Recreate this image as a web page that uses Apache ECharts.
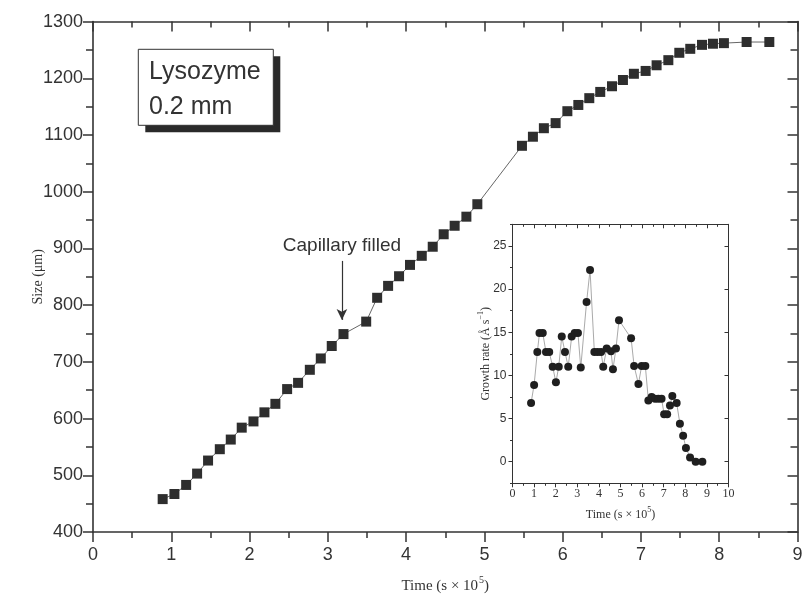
<!DOCTYPE html>
<html>
<head>
<meta charset="utf-8">
<script src="https://cdn.jsdelivr.net/npm/echarts@6/dist/echarts.min.js"></script>
<style>html,body{margin:0;padding:0;background:#fff;}#c{width:808px;height:595px;}</style>
</head>
<body>
<div id="c"></div>
<script>
// Main chart data: crystal size vs time (s x 10^5)
const mainTime = [0.89,1.04,1.19,1.33,1.47,1.62,1.76,1.90,2.05,2.19,2.33,2.48,2.62,2.77,2.91,3.05,3.20,3.49,3.63,3.77,3.91,4.05,4.20,4.34,4.48,4.62,4.77,4.91,5.48,5.62,5.76,5.91,6.06,6.20,6.34,6.48,6.63,6.77,6.91,7.06,7.20,7.35,7.49,7.63,7.78,7.92,8.06,8.35,8.64];
const mainSize = [458,467,483,503,526,546,563,584,595,611,626,652,663,686,706,728,749,771,813,834,851,871,887,903,925,940,956,978,1081,1097,1112,1121,1142,1153,1165,1176,1186,1197,1208,1213,1223,1232,1245,1252,1259,1261,1262,1264,1264];
// Inset data: growth rate vs time
const insetTime = [0.86,1.00,1.15,1.25,1.40,1.55,1.70,1.86,2.01,2.14,2.28,2.43,2.58,2.74,2.88,3.03,3.16,3.43,3.59,3.79,3.94,4.10,4.20,4.36,4.56,4.65,4.79,4.93,5.49,5.63,5.83,5.98,6.15,6.29,6.44,6.60,6.75,6.90,7.02,7.16,7.29,7.40,7.60,7.75,7.90,8.03,8.22,8.48,8.79];
const insetRate = [6.8,8.9,12.7,14.9,14.9,12.7,12.7,11.0,9.2,11.0,14.5,12.7,11.0,14.5,14.9,14.9,10.9,18.5,22.2,12.7,12.7,12.7,11.0,13.1,12.8,10.7,13.1,16.4,14.3,11.1,9.0,11.1,11.1,7.1,7.5,7.3,7.3,7.3,5.5,5.5,6.5,7.6,6.8,4.4,3.0,1.6,0.5,0.0,0.0];
const mainXTicks = {min:0, max:9, step:1};
const mainYTicks = {min:400, max:1300, step:100};
const insetXTicks = {min:0, max:10, step:1};
const insetYMajor = [0,5,10,15,20,25];
const insetYMinor = [-2.5,2.5,7.5,12.5,17.5,22.5,27.5];
const arrowAt = {x:3.18, from:878, to:774, text:'Capillary filled'};
const boxLines = ['Lysozyme', '0.2 mm'];

const ink = '#333';
const sans = 'Liberation Sans, Arial, sans-serif';
const serif = 'Liberation Serif, Times New Roman, serif';

function line(w){return {show:true, onZero:false, lineStyle:{color:ink, width:w}};}
const plain = v => String(v);

const chart = echarts.init(document.getElementById('c'), null, {renderer:'canvas'});
const supRich = {sup:{fontSize:10, fontFamily:serif, color:ink, verticalAlign:'top', lineHeight:22, padding:[0,0,0,1]}};
const supRichSmall = {sup:{fontSize:8, fontFamily:serif, color:ink, verticalAlign:'top', lineHeight:18}};

const option = {
  animation:false,
  backgroundColor:'#fff',
  grid:[
    {left:93, top:21.6, right:10.5, bottom:63, containLabel:false, outerBoundsMode:'none'},
    {left:512.5, top:224.3, width:216, height:259, show:true, backgroundColor:'#fff', borderWidth:0, z:1, containLabel:false, outerBoundsMode:'none'}
  ],
  xAxis:[
    {gridIndex:0, type:'value', position:'bottom', min:mainXTicks.min, max:mainXTicks.max, interval:mainXTicks.step,
     axisLine:line(1.6), axisTick:{show:true, inside:false, length:10, lineStyle:{color:ink, width:1.5}},
     minorTick:{show:true, splitNumber:2, length:6, lineStyle:{color:ink, width:1.5}},
     splitLine:{show:false}, minorSplitLine:{show:false},
     axisLabel:{fontFamily:sans, fontSize:18, color:ink, margin:14, formatter:plain},
     name:'Time (s × 10{sup|5})', nameLocation:'middle', nameGap:43, nameMoveOverlap:false,
     nameTextStyle:{fontFamily:serif, fontSize:15, color:ink, rich:supRich}},
    {gridIndex:0, type:'value', position:'top', min:mainXTicks.min, max:mainXTicks.max, interval:mainXTicks.step,
     axisLine:line(1.6), axisTick:{show:true, inside:true, length:10, lineStyle:{color:ink, width:1.5}},
     minorTick:{show:true, splitNumber:2, length:6, lineStyle:{color:ink, width:1.5}},
     splitLine:{show:false}, axisLabel:{show:false}},
    {gridIndex:1, type:'value', position:'bottom', min:insetXTicks.min, max:insetXTicks.max, interval:insetXTicks.step, z:5,
     axisLine:line(1), axisTick:{show:true, inside:false, length:4, lineStyle:{color:ink, width:1}},
     minorTick:{show:true, splitNumber:2, length:2.5, lineStyle:{color:ink, width:1}},
     splitLine:{show:false}, axisLabel:{fontFamily:serif, fontSize:12, color:ink, margin:5, formatter:plain},
     name:'Time (s × 10{sup|5})', nameLocation:'middle', nameGap:23, nameMoveOverlap:false,
     nameTextStyle:{fontFamily:serif, fontSize:12, color:ink, rich:supRichSmall}},
    {gridIndex:1, type:'value', position:'top', min:insetXTicks.min, max:insetXTicks.max, interval:insetXTicks.step, z:5,
     axisLine:line(1), axisTick:{show:true, inside:true, length:4, lineStyle:{color:ink, width:1}},
     minorTick:{show:true, splitNumber:2, length:2.5, lineStyle:{color:ink, width:1}},
     splitLine:{show:false}, axisLabel:{show:false}}
  ],
  yAxis:[
    {gridIndex:0, type:'value', position:'left', min:mainYTicks.min, max:mainYTicks.max, interval:mainYTicks.step,
     axisLine:line(1.6), axisTick:{show:true, inside:false, length:10, lineStyle:{color:ink, width:1.5}},
     minorTick:{show:true, splitNumber:2, length:7, lineStyle:{color:ink, width:1.5}},
     splitLine:{show:false}, axisLabel:{fontFamily:sans, fontSize:18, color:ink, margin:10, formatter:plain},
     name:'Size (μm)', nameLocation:'middle', nameGap:48, nameMoveOverlap:false,
     nameTextStyle:{fontFamily:serif, fontSize:14, color:ink}},
    {gridIndex:0, type:'value', position:'right', min:mainYTicks.min, max:mainYTicks.max, interval:mainYTicks.step,
     axisLine:line(1.6), axisTick:{show:true, inside:true, length:10, lineStyle:{color:ink, width:1.5}},
     minorTick:{show:true, splitNumber:2, length:7, lineStyle:{color:ink, width:1.5}},
     splitLine:{show:false}, axisLabel:{show:false}},
    {gridIndex:1, type:'value', position:'left', min:-2.5, max:27.5, z:5,
     axisLine:line(1), axisTick:{show:true, inside:false, length:4, customValues:insetYMajor, lineStyle:{color:ink, width:1}},
     splitLine:{show:false}, axisLabel:{fontFamily:sans, fontSize:12, color:ink, margin:6, customValues:insetYMajor, formatter:plain},
     name:'Growth rate (Å s{sup|−1})', nameLocation:'middle', nameGap:18, nameMoveOverlap:false,
     nameTextStyle:{fontFamily:serif, fontSize:12, color:ink, rich:supRichSmall}},
    {gridIndex:1, type:'value', position:'left', min:-2.5, max:27.5, z:5,
     axisLine:{show:false}, axisTick:{show:true, inside:false, length:2.5, customValues:insetYMinor, lineStyle:{color:ink, width:1}},
     splitLine:{show:false}, axisLabel:{show:false}},
    {gridIndex:1, type:'value', position:'right', min:-2.5, max:27.5, z:5,
     axisLine:line(1), axisTick:{show:true, inside:true, length:4, customValues:insetYMajor, lineStyle:{color:ink, width:1}},
     splitLine:{show:false}, axisLabel:{show:false}},
    {gridIndex:1, type:'value', position:'right', min:-2.5, max:27.5, z:5,
     axisLine:{show:false}, axisTick:{show:true, inside:true, length:2.5, customValues:insetYMinor, lineStyle:{color:ink, width:1}},
     splitLine:{show:false}, axisLabel:{show:false}}
  ],
  series:[
    {type:'line', xAxisIndex:0, yAxisIndex:0, data:mainTime.map((t,i)=>[t, mainSize[i]]),
     symbol:'rect', symbolSize:10, itemStyle:{color:'#2e2e2e'}, lineStyle:{color:'#666', width:1}, z:4,
     markLine:{silent:true, symbol:['none','arrow'], symbolSize:[8,11], animation:false,
       lineStyle:{color:ink, width:1.2, type:'solid'},
       label:{show:true, position:'start', formatter:arrowAt.text, fontFamily:sans, fontSize:19, color:ink, distance:6},
       data:[[{coord:[arrowAt.x, arrowAt.from]},{coord:[arrowAt.x, arrowAt.to]}]]}},
    {type:'line', xAxisIndex:2, yAxisIndex:2, data:insetTime.map((t,i)=>[t, insetRate[i]]),
     symbol:'circle', symbolSize:8, itemStyle:{color:'#1f1f1f'}, lineStyle:{color:'#aaa', width:1}, z:5}
  ],
  graphic:[
    {type:'rect', shape:{x:145.3, y:56.3, width:135, height:76}, style:{fill:'#2a2a2a'}, z:10},
    {type:'rect', shape:{x:138.3, y:49.3, width:135, height:76}, style:{fill:'#fff', stroke:ink, lineWidth:1}, z:11},
    {type:'text', x:149, y:72, style:{text:boxLines[0], font:'25px "Liberation Sans"', fill:ink, align:'left', verticalAlign:'middle'}, z:12},
    {type:'text', x:149, y:107, style:{text:boxLines[1], font:'25px "Liberation Sans"', fill:ink, align:'left', verticalAlign:'middle'}, z:12}
  ]
};
chart.setOption(option);
</script>
</body>
</html>
